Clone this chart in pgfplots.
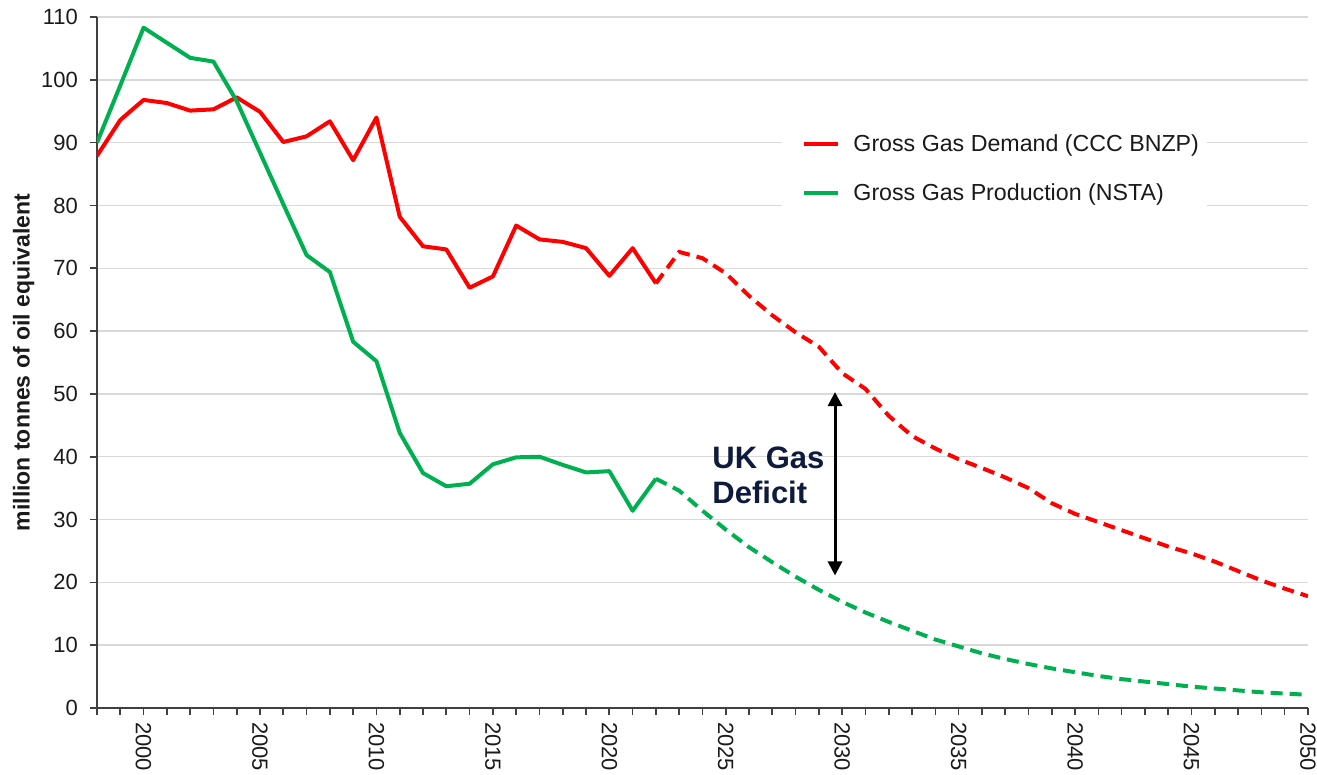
\documentclass[border=0pt]{standalone}
\usepackage{fontspec}
\setmainfont{Liberation Sans}
\usepackage{pgfplots}
\pgfplotsset{compat=1.18}
\usetikzlibrary{arrows.meta}
\definecolor{dem}{HTML}{FF0000}
\definecolor{prod}{HTML}{00B050}
\definecolor{gridc}{HTML}{D9D9D9}
\definecolor{axc}{HTML}{404040}
\definecolor{navy}{HTML}{0E1B3D}
\definecolor{txt}{HTML}{1A1A1A}

\begin{document}
\begin{tikzpicture}
\begin{axis}[
 scale only axis, width=605.5pt, height=345.5pt,
 xmin=1998, xmax=2050, ymin=0, ymax=110,
 axis lines=left, axis line style={-, axc, line width=0.9pt},
 xtick={2000,2005,...,2050}, minor xtick={1998,...,2050},
 ytick={0,10,...,110},
 tick align=outside, major tick length=3.5pt, minor tick length=3.5pt,
 tick style={axc, line width=0.8pt},
 ymajorgrids, grid style={gridc, line width=0.75pt},
 xticklabel style={rotate=-90, anchor=west, font=\fontsize{11}{13}\selectfont, text=txt},
 yticklabel style={font=\fontsize{11}{13}\selectfont, text=txt, xshift=-2.5pt},
 /pgf/number format/assume math mode=true,
 /pgf/number format/set thousands separator={},
 ylabel={million tonnes of oil equivalent},
 every axis y label/.style={at={(rel axis cs:-0.0605,0.5)}, rotate=90, anchor=center, font=\fontsize{11.5}{13}\selectfont\bfseries, text=txt},
 legend style={at={(rel axis cs:0.5657,0.8625)}, anchor=north west, draw=none, fill=white,
   font=\fontsize{11.6}{13.5}\selectfont, text=txt, row sep=10.5pt, inner xsep=2pt, inner ysep=9pt,
   column sep=4.5pt},
 legend cell align=left,
 legend image code/.code={\path (-8pt,0pt); \draw[#1] (0pt,0pt) -- (17pt,0pt);},
]
\addplot[dem, line width=2pt, line join=round] coordinates {
(1998,87.9) (1999,93.6) (2000,96.8) (2001,96.3) (2002,95.1) (2003,95.3) (2004,97.2)
(2005,94.9) (2006,90.1) (2007,91.0) (2008,93.4) (2009,87.2) (2010,94.0) (2011,78.2)
(2012,73.5) (2013,73.0) (2014,66.9) (2015,68.7) (2016,76.8) (2017,74.6) (2018,74.2)
(2019,73.2) (2020,68.8) (2021,73.2) (2022,67.6)};
\addlegendentry{Gross Gas Demand (CCC BNZP)}
\addplot[prod, line width=2pt, line join=round] coordinates {
(1998,90.0) (1999,99.1) (2000,108.3) (2001,105.9) (2002,103.5) (2003,102.9) (2004,96.6)
(2005,88.4) (2006,80.2) (2007,72.1) (2008,69.4) (2009,58.3) (2010,55.2) (2011,43.8)
(2012,37.4) (2013,35.3) (2014,35.7) (2015,38.8) (2016,39.9) (2017,40.0) (2018,38.7)
(2019,37.5) (2020,37.7) (2021,31.4) (2022,36.5)};
\addlegendentry{Gross Gas Production (NSTA)}
\addplot[dem, line width=2pt, dash pattern=on 6pt off 3.5pt, forget plot] coordinates {
(2022,67.6) (2023,72.6) (2024,71.6) (2025,69.2) (2026,65.6) (2027,62.5) (2028,59.8)
(2029,57.5) (2030,53.3) (2031,50.8) (2032,46.5) (2033,43.3) (2034,41.3) (2035,39.6)
(2036,38.2) (2037,36.7) (2038,35.0) (2039,32.6) (2040,30.9) (2041,29.6) (2042,28.3)
(2043,27.0) (2044,25.7) (2045,24.6) (2046,23.3) (2047,21.8) (2048,20.3) (2049,19.0) (2050,17.8)};
\addplot[prod, line width=2pt, dash pattern=on 6pt off 3.5pt, forget plot] coordinates {
(2022,36.5) (2023,34.6) (2024,31.4) (2025,28.4) (2026,25.6) (2027,23.2) (2028,20.9)
(2029,18.8) (2030,16.9) (2031,15.2) (2032,13.7) (2033,12.3) (2034,10.9) (2035,9.8)
(2036,8.7) (2037,7.8) (2038,7.0) (2039,6.3) (2040,5.7) (2041,5.1) (2042,4.6)
(2043,4.2) (2044,3.8) (2045,3.4) (2046,3.1) (2047,2.8) (2048,2.5) (2049,2.3) (2050,2.1)};
\draw[black, line width=1.5pt, {Triangle[length=7pt,width=7pt]}-{Triangle[length=7pt,width=7pt]}]
  (axis cs:2029.69,50.3) -- (axis cs:2029.69,21.1);
\node[anchor=north west, inner sep=0pt, align=left, text=navy,
  font=\fontsize{15.5}{17.5}\selectfont\bfseries] at (axis cs:2024.41,41.6) {UK Gas\\Deficit};
\coordinate (bbA) at (rel axis cs:-0.0801,-0.0955);
\coordinate (bbB) at (rel axis cs:1.00743,1.0246);
\end{axis}
\pgfresetboundingbox
\path (bbA) rectangle (bbB);
\end{tikzpicture}
\end{document}
